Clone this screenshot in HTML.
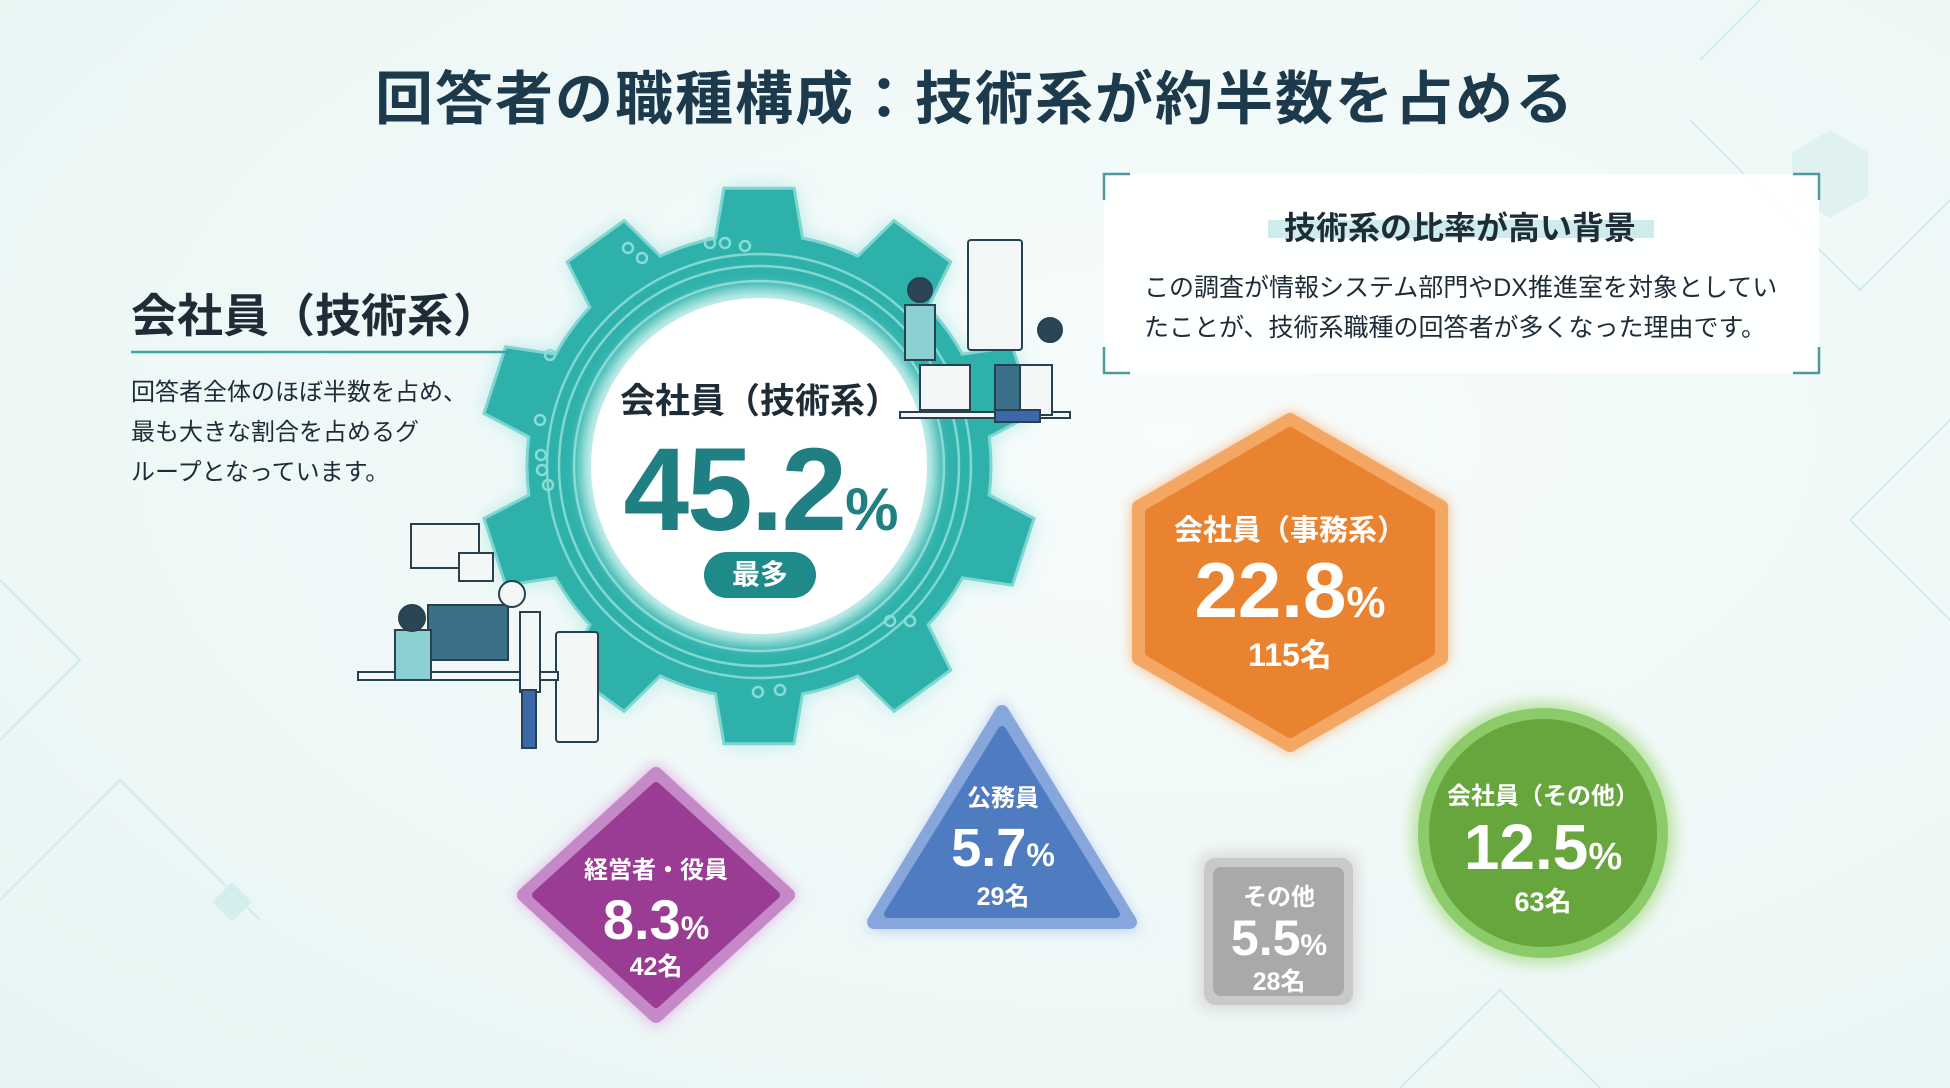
<!DOCTYPE html>
<html><head><meta charset="utf-8">
<style>
html,body{margin:0;padding:0}
body{width:1950px;height:1088px;overflow:hidden;position:relative;
background:radial-gradient(ellipse at 60% 40%,#f7fcfc 0%,#eef8f7 60%,#e6f4f3 100%);
font-family:"Liberation Sans","Noto Sans CJK JP",sans-serif;color:#1d2a33}
.a{position:absolute}
.c{position:absolute;text-align:center;white-space:nowrap;transform:translateX(-50%)}
.num{font-family:"Liberation Sans Narrow","Liberation Sans","Noto Sans CJK JP",sans-serif;font-weight:bold}
.jp{font-weight:bold}
</style></head><body>
<svg class="a" style="left:0;top:0" width="1950" height="1088">
 <g stroke="#cfeceb" stroke-width="2" fill="none">
  <path d="M1700 60 L1800 -40 M1690 120 L1860 290 L1950 200"/>
  <path d="M1850 520 L1950 420 M1850 520 L1950 620"/>
  <path d="M0 580 L80 660 L0 740 M0 900 L120 780 L260 920"/>
  <path d="M1400 1088 L1500 990 L1600 1088"/>
 </g>
 <polygon points="1830,130 1868,152 1868,196 1830,218 1792,196 1792,152" fill="#dff2f1"/>
 <rect x="218" y="888" width="28" height="28" transform="rotate(45 232 902)" fill="#d3eeed"/>
 <defs>
  <filter id="glow" x="-30%" y="-30%" width="160%" height="160%"><feGaussianBlur stdDeviation="10"/></filter>
  <filter id="sg" x="-30%" y="-30%" width="160%" height="160%"><feGaussianBlur stdDeviation="7"/></filter>
 </defs>
 <path id="gearglow" d="" fill="#9fe3df" filter="url(#glow)" opacity="0.8"/>
 <path id="gear" d="" fill="#2fb1ab" stroke="#7fd6d1" stroke-width="3"/>
 <g stroke="#8adcd6" stroke-width="2.5" fill="none" opacity="0.9">
  <circle cx="759" cy="466" r="185"/><circle cx="759" cy="466" r="200"/><circle cx="759" cy="466" r="212"/>
 </g>
 <g fill="none" stroke="#8adcd6" stroke-width="2.5">
  <circle cx="628" cy="248" r="5"/><circle cx="642" cy="258" r="5"/><circle cx="710" cy="243" r="5"/><circle cx="725" cy="243" r="5"/><circle cx="745" cy="246" r="5"/>
  <circle cx="550" cy="355" r="5"/><circle cx="540" cy="420" r="5"/><circle cx="541" cy="455" r="5"/><circle cx="542" cy="470" r="5"/><circle cx="548" cy="485" r="5"/>
  <circle cx="905" cy="410" r="5"/><circle cx="910" cy="430" r="5"/><circle cx="917" cy="458" r="5"/>
  <circle cx="890" cy="621" r="5"/><circle cx="910" cy="621" r="5"/><circle cx="780" cy="690" r="5"/><circle cx="758" cy="692" r="5"/>
 </g>
 <circle cx="759" cy="466" r="178" fill="#c8f0ed" filter="url(#sg)"/>
 <circle cx="759" cy="466" r="168" fill="#ffffff"/>
 <g stroke="#27414f" stroke-width="2" fill="#f3f7f8">
  <rect x="968" y="240" width="54" height="110" rx="3"/>
  <rect x="556" y="632" width="42" height="110" rx="3"/>
  <rect x="411" y="524" width="68" height="44"/>
  <rect x="459" y="553" width="34" height="28"/>
  <rect x="428" y="605" width="80" height="55" fill="#3b6f8a"/>
  <rect x="358" y="672" width="200" height="8"/>
  <rect x="995" y="365" width="50" height="45" fill="#3b6f8a"/>
  <rect x="920" y="365" width="50" height="45"/>
  <rect x="900" y="412" width="170" height="6"/>
 </g>
 <g stroke="#27414f" stroke-width="2">
  <rect x="520" y="612" width="20" height="80" fill="#f3f7f8"/>
  <rect x="522" y="690" width="14" height="58" fill="#3a68a8"/>
  <circle cx="512" cy="594" r="13" fill="#f3f7f8"/>
  <rect x="395" y="630" width="36" height="50" fill="#8ccfd0"/>
  <circle cx="412" cy="618" r="13" fill="#2b4556"/>
  <rect x="1020" y="365" width="32" height="50" fill="#f3f7f8"/>
  <rect x="995" y="410" width="45" height="12" fill="#3a68a8"/>
  <circle cx="1050" cy="330" r="12" fill="#2b4556"/>
  <rect x="905" y="305" width="30" height="55" fill="#8ccfd0"/>
  <circle cx="920" cy="290" r="12" fill="#2b4556"/>
 </g>
 <rect x="1104" y="174" width="715" height="199" fill="#ffffff" opacity="0.9"/>
 <g stroke="#4a9aa0" stroke-width="2.5" fill="none">
  <path d="M1104 200 V174 H1130 M1793 174 H1819 V200 M1104 347 V373 H1130 M1793 373 H1819 V347"/>
 </g>
 <rect x="1268" y="220" width="386" height="18" fill="#cdeceb"/>
 <line x1="131" y1="352" x2="512" y2="352" stroke="#3aa7a5" stroke-width="2.5"/>
 <polygon points="1290,412 1448,503 1448,662 1290,753 1132,662 1132,503" fill="#f6b985" filter="url(#sg)"/>
 <polygon points="1290,420 1441,507 1441,658 1290,745 1139,658 1139,507" fill="#f4a663" stroke="#f4a663" stroke-width="14" stroke-linejoin="round"/>
 <polygon points="1290,432 1430,513 1430,652 1290,733 1150,652 1150,513" fill="#e9832f" stroke="#e9832f" stroke-width="10" stroke-linejoin="round"/>
 <circle cx="1543" cy="833" r="132" fill="#bfe3a8" filter="url(#sg)"/>
 <circle cx="1543" cy="833" r="125" fill="#8ccb6a"/>
 <circle cx="1543" cy="833" r="114" fill="#66a63c"/>
 <rect x="1198" y="852" width="160" height="158" rx="14" fill="#dcdcdc" filter="url(#sg)"/>
 <rect x="1204" y="858" width="149" height="147" rx="12" fill="#c9c9c9"/>
 <rect x="1213" y="867" width="131" height="129" rx="8" fill="#a9a9a9"/>
 <polygon points="1002,700 1140,930 866,930" fill="#b7c9ee" filter="url(#sg)"/>
 <polygon points="1002,712 1130,922 874,922" fill="#86a6dc" stroke="#86a6dc" stroke-width="14" stroke-linejoin="round"/>
 <polygon points="1002,730 1116,914 888,914" fill="#4f7cc0" stroke="#4f7cc0" stroke-width="8" stroke-linejoin="round"/>
 <g transform="translate(0,22)">
 <polygon points="656,740 799,873 656,1006 513,873" fill="#e2b9e6" filter="url(#sg)"/>
 <polygon points="656,752 788,873 656,994 524,873" fill="#c589c8" stroke="#c589c8" stroke-width="14" stroke-linejoin="round"/>
 <polygon points="656,764 776,873 656,982 536,873" fill="#9a3c93" stroke="#9a3c93" stroke-width="8" stroke-linejoin="round"/>
 </g>
</svg>

<div class="c jp" style="left:975px;top:52px:;top:52px;font-size:58px;color:#1c3a4c;letter-spacing:2px">回答者の職種構成：技術系が約半数を占める</div>
<div class="a jp" style="left:131px;top:280px;font-size:46px;color:#1e2c38">会社員（技術系）</div>
<div class="a" style="left:131px;top:373px;font-size:24px;line-height:40px;color:#1e2c38">回答者全体のほぼ半数を占め、<br>最も大きな割合を占めるグ<br>ループとなっています。</div>

<div class="c jp" style="left:760px;top:373px;font-size:35px;color:#1e2c38">会社員（技術系）</div>
<div class="c num" style="left:760px;top:430px;font-size:118px;line-height:120px;color:#1f7f82;letter-spacing:-2px">45.2<span style="font-size:60px">%</span></div>
<div class="c jp" style="left:760px;top:552px;width:112px;height:46px;line-height:46px;border-radius:23px;background:#1e8a8a;color:#fff;font-size:28px">最多</div>

<div class="c jp" style="left:1460px;top:203px;font-size:32px;color:#1e2c38">技術系の比率が高い背景</div>
<div class="a" style="left:1144px;top:268px;font-size:25px;line-height:40px;color:#1e2c38">この調査が情報システム部門やDX推進室を対象としてい<br>たことが、技術系職種の回答者が多くなった理由です。</div>

<div class="c jp" style="left:1290px;top:507px;font-size:29px;color:#fff">会社員（事務系）</div>
<div class="c num" style="left:1290px;top:548px;font-size:78px;line-height:84px;color:#fff">22.8<span style="font-size:44px">%</span></div>
<div class="c num" style="left:1290px;top:630px;font-size:32px;color:#fff">115名</div>

<div class="c jp" style="left:1543px;top:776px;font-size:24px;color:#fff">会社員（その他）</div>
<div class="c num" style="left:1543px;top:812px;font-size:64px;line-height:70px;color:#fff">12.5<span style="font-size:38px">%</span></div>
<div class="c num" style="left:1543px;top:880px;font-size:27px;color:#fff">63名</div>

<div class="c jp" style="left:1279px;top:877px;font-size:24px;color:#fff">その他</div>
<div class="c num" style="left:1279px;top:910px;font-size:50px;line-height:56px;color:#fff">5.5<span style="font-size:30px">%</span></div>
<div class="c num" style="left:1279px;top:962px;font-size:25px;color:#fff">28名</div>

<div class="c jp" style="left:1003px;top:778px;font-size:24px;color:#fff">公務員</div>
<div class="c num" style="left:1003px;top:818px;font-size:54px;line-height:60px;color:#fff">5.7<span style="font-size:32px">%</span></div>
<div class="c num" style="left:1003px;top:877px;font-size:25px;color:#fff">29名</div>

<div class="c jp" style="left:656px;top:850px;font-size:24px;color:#fff">経営者・役員</div>
<div class="c num" style="left:656px;top:890px;font-size:56px;line-height:60px;color:#fff">8.3<span style="font-size:32px">%</span></div>
<div class="c num" style="left:656px;top:947px;font-size:25px;color:#fff">42名</div>

<script>
(function(){
 var cx=759,cy=466,R=280,r=232,n=10,d="";
 for(var i=0;i<n;i++){
  var a0=(i/n)*2*Math.PI-Math.PI/2, step=2*Math.PI/n;
  var pts=[[a0-step*0.3,r],[a0-step*0.2,R],[a0+step*0.2,R],[a0+step*0.3,r]];
  for(var j=0;j<4;j++){var p=pts[j];var x=cx+p[1]*Math.cos(p[0]),y=cy+p[1]*Math.sin(p[0]);
   d+=(i==0&&j==0?"M":"L")+x.toFixed(1)+" "+y.toFixed(1)+" ";}
  var ae=a0+step*0.7; d+="A"+r+" "+r+" 0 0 1 "+(cx+r*Math.cos(ae)).toFixed(1)+" "+(cy+r*Math.sin(ae)).toFixed(1)+" ";
 }
 d+="Z";
 document.getElementById("gear").setAttribute("d",d);
 document.getElementById("gearglow").setAttribute("d",d);
})();
</script>
</body></html>
